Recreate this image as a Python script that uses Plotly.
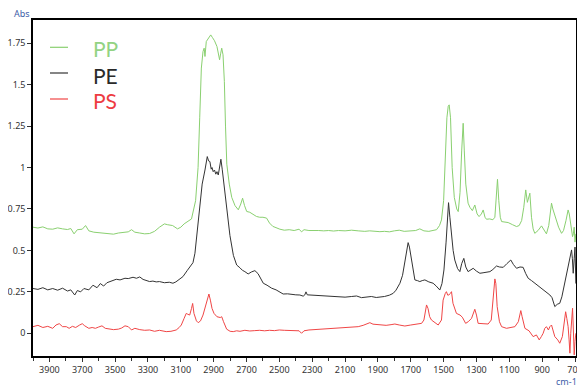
import plotly.graph_objects as go

# ---------------- data ----------------
pp_wn = [4000, 3970, 3940, 3910, 3880, 3850, 3820, 3790, 3770, 3750, 3730, 3700, 3680, 3660,
         3630, 3600, 3570, 3540, 3510, 3480, 3450, 3420, 3400, 3380, 3350, 3320, 3290, 3260,
         3230, 3200, 3180, 3150, 3120, 3100, 3080, 3060, 3035, 3010, 2995, 2985, 2975, 2965,
         2958, 2953, 2945, 2935, 2925, 2918, 2908, 2895, 2880, 2870, 2864, 2857, 2851, 2843,
         2835, 2828, 2820, 2805, 2790, 2770, 2750, 2735, 2724, 2712, 2699, 2680, 2660, 2640,
         2620, 2600, 2578, 2560, 2540, 2520, 2497, 2470, 2440, 2410, 2380, 2365, 2350, 2320,
         2290, 2260, 2230, 2200, 2170, 2140, 2100, 2060, 2020, 1980, 1950, 1920, 1888, 1860,
         1830, 1800, 1770, 1740, 1700, 1670, 1645, 1620, 1590, 1560, 1543, 1525, 1513, 1500,
         1490, 1480, 1472, 1466, 1458, 1448, 1435, 1420, 1411, 1400, 1390, 1381, 1374, 1365,
         1351, 1340, 1325, 1310, 1296, 1284, 1270, 1259, 1248, 1239, 1220, 1200, 1188, 1180,
         1172, 1164, 1155, 1147, 1130, 1107, 1080, 1056, 1040, 1025, 1012, 1000, 990, 975,
         965, 955, 945, 925, 904, 890, 874, 860, 850, 843, 835, 825, 813, 800, 782, 770, 755,
         742, 735, 725, 715, 710, 705, 700, 695]
pp_abs = [0.640, 0.635, 0.642, 0.630, 0.628, 0.636, 0.630, 0.626, 0.632, 0.600, 0.625, 0.628,
          0.650, 0.618, 0.610, 0.608, 0.605, 0.600, 0.598, 0.605, 0.608, 0.612, 0.625, 0.610,
          0.605, 0.600, 0.602, 0.615, 0.640, 0.660, 0.655, 0.650, 0.630, 0.640, 0.660, 0.675,
          0.690, 0.800, 1.000, 1.300, 1.600, 1.700, 1.720, 1.670, 1.760, 1.775, 1.790, 1.800,
          1.785, 1.765, 1.730, 1.670, 1.650, 1.690, 1.720, 1.680, 1.520, 1.250, 1.020, 0.900,
          0.820, 0.770, 0.745, 0.780, 0.815, 0.770, 0.735, 0.730, 0.715, 0.705, 0.700, 0.700,
          0.695, 0.665, 0.645, 0.635, 0.628, 0.622, 0.625, 0.620, 0.628, 0.612, 0.625, 0.620,
          0.622, 0.620, 0.618, 0.620, 0.617, 0.620, 0.618, 0.622, 0.618, 0.615, 0.618, 0.614,
          0.613, 0.615, 0.612, 0.618, 0.622, 0.615, 0.618, 0.620, 0.630, 0.618, 0.615, 0.620,
          0.625, 0.650, 0.684, 0.800, 1.050, 1.300, 1.370, 1.378, 1.300, 1.000, 0.820, 0.750,
          0.734, 0.850, 1.100, 1.267, 1.100, 0.900, 0.785, 0.760, 0.740, 0.774, 0.720, 0.704,
          0.720, 0.744, 0.700, 0.688, 0.690, 0.685, 0.700, 0.800, 0.929, 0.800, 0.700, 0.674,
          0.670, 0.668, 0.655, 0.644, 0.650, 0.680, 0.760, 0.865, 0.790, 0.845, 0.700, 0.630,
          0.603, 0.620, 0.648, 0.625, 0.600, 0.650, 0.740, 0.785, 0.750, 0.720, 0.684, 0.640,
          0.603, 0.620, 0.680, 0.744, 0.720, 0.660, 0.583, 0.600, 0.640, 0.550, 0.600]

pe_wn = [4000, 3970, 3940, 3910, 3880, 3850, 3820, 3790, 3770, 3746, 3730, 3710, 3690, 3660,
         3635, 3610, 3590, 3570, 3550, 3520, 3493, 3470, 3440, 3420, 3391, 3370, 3350, 3330,
         3310, 3290, 3270, 3250, 3230, 3200, 3170, 3148, 3130, 3110, 3087, 3060, 3044, 3026,
         3014, 3000, 2984, 2970, 2953, 2945, 2939, 2931, 2923, 2915, 2910, 2903, 2895, 2887,
         2880, 2872, 2863, 2856, 2848, 2836, 2820, 2801, 2780, 2760, 2740, 2725, 2710, 2690,
         2670, 2649, 2630, 2615, 2598, 2575, 2547, 2520, 2500, 2477, 2450, 2420, 2400, 2375,
         2355, 2345, 2338, 2330, 2314, 2290, 2260, 2230, 2200, 2170, 2131, 2100, 2060, 2030,
         2000, 1970, 1940, 1910, 1888, 1860, 1830, 1807, 1790, 1766, 1750, 1736, 1725, 1716,
         1708, 1695, 1685, 1675, 1660, 1645, 1630, 1614, 1590, 1564, 1545, 1523, 1510, 1498,
         1485, 1475, 1470, 1462, 1452, 1442, 1432, 1415, 1401, 1390, 1377, 1365, 1351, 1335,
         1320, 1300, 1279, 1260, 1240, 1218, 1200, 1178, 1160, 1137, 1115, 1091, 1075, 1056,
         1035, 1016, 1000, 985, 965, 945, 920, 905, 894, 870, 853, 840, 823, 808, 793, 780,
         772, 760, 752, 745, 736, 728, 721, 716, 711, 705, 700, 695]
pe_abs = [0.270, 0.265, 0.275, 0.262, 0.270, 0.260, 0.272, 0.255, 0.262, 0.231, 0.258, 0.250,
          0.270, 0.262, 0.290, 0.275, 0.300, 0.285, 0.305, 0.315, 0.326, 0.322, 0.332, 0.330,
          0.338, 0.332, 0.340, 0.325, 0.318, 0.312, 0.315, 0.310, 0.312, 0.305, 0.308, 0.302,
          0.310, 0.325, 0.342, 0.380, 0.402, 0.426, 0.483, 0.620, 0.764, 0.900, 0.985, 1.030,
          1.066, 1.040, 1.036, 0.990, 1.000, 0.975, 0.985, 0.960, 0.975, 0.955, 1.010, 1.050,
          0.990, 0.880, 0.730, 0.590, 0.470, 0.412, 0.395, 0.380, 0.372, 0.358, 0.370, 0.378,
          0.360, 0.330, 0.302, 0.290, 0.272, 0.262, 0.250, 0.237, 0.238, 0.233, 0.232, 0.231,
          0.224, 0.232, 0.250, 0.232, 0.231, 0.228, 0.226, 0.225, 0.222, 0.220, 0.217, 0.218,
          0.222, 0.225, 0.215, 0.218, 0.222, 0.216, 0.217, 0.222, 0.230, 0.241, 0.260, 0.302,
          0.350, 0.422, 0.500, 0.547, 0.520, 0.442, 0.370, 0.322, 0.318, 0.312, 0.318, 0.322,
          0.310, 0.302, 0.285, 0.261, 0.300, 0.382, 0.550, 0.750, 0.788, 0.700, 0.583, 0.500,
          0.442, 0.390, 0.372, 0.420, 0.452, 0.400, 0.372, 0.385, 0.392, 0.375, 0.362, 0.365,
          0.370, 0.372, 0.385, 0.406, 0.400, 0.398, 0.420, 0.442, 0.415, 0.392, 0.400, 0.398,
          0.360, 0.332, 0.318, 0.302, 0.285, 0.275, 0.261, 0.245, 0.231, 0.215, 0.161, 0.175,
          0.181, 0.220, 0.261, 0.320, 0.362, 0.400, 0.442, 0.470, 0.503, 0.450, 0.362, 0.450,
          0.520, 0.300]

ps_wn = [4000, 3970, 3940, 3910, 3880, 3860, 3840, 3820, 3797, 3780, 3760, 3740, 3716, 3700,
         3685, 3660, 3640, 3620, 3600, 3580, 3560, 3540, 3510, 3480, 3460, 3440, 3420, 3400,
         3380, 3350, 3320, 3290, 3260, 3230, 3200, 3189, 3160, 3128, 3110, 3097, 3080, 3067,
         3058, 3046, 3035, 3028, 3020, 3005, 2994, 2980, 2965, 2950, 2935, 2929, 2920, 2910,
         2898, 2880, 2860, 2851, 2840, 2821, 2800, 2781, 2760, 2740, 2710, 2680, 2650, 2620,
         2590, 2560, 2530, 2500, 2470, 2440, 2410, 2380, 2365, 2350, 2320, 2290, 2260, 2220,
         2180, 2140, 2100, 2061, 2020, 1990, 1960, 1949, 1930, 1900, 1878, 1850, 1820, 1797,
         1770, 1736, 1700, 1670, 1634, 1620, 1610, 1604, 1595, 1585, 1574, 1550, 1533, 1513,
         1503, 1490, 1483, 1475, 1468, 1460, 1452, 1443, 1430, 1422, 1400, 1386, 1366, 1350,
         1330, 1320, 1310, 1300, 1290, 1260, 1229, 1210, 1200, 1192, 1188, 1182, 1174, 1160,
         1147, 1117, 1090, 1066, 1045, 1035, 1030, 1022, 1005, 980, 955, 935, 918, 905, 894,
         884, 874, 862, 853, 843, 833, 823, 805, 793, 777, 766, 757, 750, 742, 736, 731, 726,
         720, 715, 710, 705, 700, 695]
ps_abs = [0.040, 0.048, 0.035, 0.042, 0.030, 0.050, 0.058, 0.040, 0.040, 0.030, 0.042, 0.035,
          0.050, 0.058, 0.045, 0.030, 0.035, 0.030, 0.038, 0.045, 0.030, 0.025, 0.022, 0.025,
          0.032, 0.045, 0.040, 0.020, 0.030, 0.022, 0.018, 0.020, 0.012, 0.018, 0.012, 0.010,
          0.012, 0.020, 0.035, 0.050, 0.090, 0.120, 0.115, 0.110, 0.150, 0.180, 0.120, 0.075,
          0.064, 0.075, 0.110, 0.160, 0.225, 0.237, 0.200, 0.150, 0.120, 0.100, 0.095, 0.100,
          0.070, 0.025, 0.012, 0.010, 0.015, 0.012, 0.018, 0.014, 0.016, 0.018, 0.015, 0.018,
          0.016, 0.020, 0.018, 0.017, 0.016, 0.015, 0.000, 0.015, 0.020, 0.022, 0.024, 0.026,
          0.028, 0.030, 0.032, 0.036, 0.040, 0.048, 0.060, 0.064, 0.055, 0.052, 0.050, 0.048,
          0.052, 0.056, 0.050, 0.044, 0.050, 0.055, 0.060, 0.080, 0.140, 0.171, 0.150, 0.100,
          0.080, 0.060, 0.050, 0.080, 0.200, 0.240, 0.251, 0.230, 0.231, 0.240, 0.251, 0.181,
          0.150, 0.120, 0.110, 0.097, 0.060, 0.070, 0.090, 0.120, 0.145, 0.110, 0.060, 0.058,
          0.056, 0.080, 0.200, 0.300, 0.328, 0.300, 0.161, 0.070, 0.040, 0.030, 0.035, 0.040,
          0.070, 0.120, 0.137, 0.100, 0.030, 0.015, -0.020, -0.010, -0.040, -0.020, 0.000,
          0.030, 0.040, 0.020, 0.040, 0.050, 0.020, -0.020, -0.040, -0.060, -0.020, 0.050,
          0.130, 0.090, 0.040, -0.040, -0.120, 0.000, 0.100, 0.151, 0.020, -0.130, -0.050,
          0.000]

series_names = ["PP", "PE", "PS"]
line_colors = ["#8ad070", "#333333", "#f04646"]
text_colors = ["#93d383", "#2a2a2a", "#ee3b42"]

y_tickvals = [0, 0.25, 0.5, 0.75, 1, 1.25, 1.5, 1.75]
y_ticktext = ["0", "0.25", "0.5", "0.75", "1", "1.25", "1.5", "1.75"]

# ---------------- figure ----------------
fig = go.Figure()
for name, wn, ab, col in zip(series_names, [pp_wn, pe_wn, ps_wn],
                             [pp_abs, pe_abs, ps_abs], line_colors):
    fig.add_trace(go.Scatter(x=wn, y=ab, mode="lines", name=name,
                             line=dict(color=col, width=1), showlegend=False))

# the page places the figure 8 px in from the top-left corner
OFF = 8
W, H = 585 - OFF, 389 - OFF
PL, PR, PT, PB = 33, 576, 20, 356   # plot area in page pixels
L, T = PL - OFF, PT - OFF
R = (OFF + W) - PR
B = (OFF + H) - PB

def px_x(x):
    return (x - PL) / (PR - PL)

def px_y(y):
    return (PB - y) / (PB - PT)

# legend drawn as shapes + text
legend_line_y = [47.3, 73, 99]
legend_text_y = [48.5, 75, 100]
for name, ly, ty, lc, tc in zip(series_names, legend_line_y, legend_text_y,
                                line_colors, text_colors):
    fig.add_shape(type="line", xref="paper", yref="paper",
                  x0=px_x(50), x1=px_x(68), y0=px_y(ly), y1=px_y(ly),
                  line=dict(color=lc, width=1.2))
    fig.add_annotation(xref="paper", yref="paper", x=px_x(91), y=px_y(ty),
                       text=name, showarrow=False, xanchor="left", yanchor="middle",
                       font=dict(family="Lato", size=21, color=tc))

fig.add_annotation(xref="paper", yref="paper", x=px_x(12), y=px_y(13), text="Abs",
                   showarrow=False, xanchor="left", yanchor="middle",
                   font=dict(family="Noto Sans", size=9, color="#3d5da8"))
fig.add_annotation(xref="paper", yref="paper", x=px_x(579), y=px_y(381), text="cm-1",
                   showarrow=False, xanchor="right", yanchor="middle",
                   font=dict(family="Noto Sans", size=9, color="#3d5da8"))

fig.update_layout(
    width=W, height=H,
    margin=dict(l=L, r=R, t=T, b=B, autoexpand=False),
    paper_bgcolor="white", plot_bgcolor="white",
    font=dict(family="Noto Sans", size=9, color="#333333"),
    showlegend=False,
)
fig.update_xaxes(range=[4000, 694], autorange=False,
                 tick0=700, dtick=200, ticks="outside", ticklen=4, tickcolor="#333",
                 minor=dict(dtick=100, tick0=700, ticks="outside", ticklen=3, tickcolor="#333"),
                 showline=True, linecolor="black", linewidth=1.5, mirror=True,
                 showgrid=False, zeroline=False, tickfont=dict(size=9, color="#333"))
fig.update_yaxes(range=[-0.137, 1.89], autorange=False,
                 tickvals=y_tickvals, ticktext=y_ticktext,
                 ticks="outside", ticklen=4, tickcolor="#333",
                 showline=True, linecolor="black", linewidth=1.5, mirror=True,
                 showgrid=False, zeroline=False, tickfont=dict(size=9, color="#333"))

fig.write_html("out.html")
